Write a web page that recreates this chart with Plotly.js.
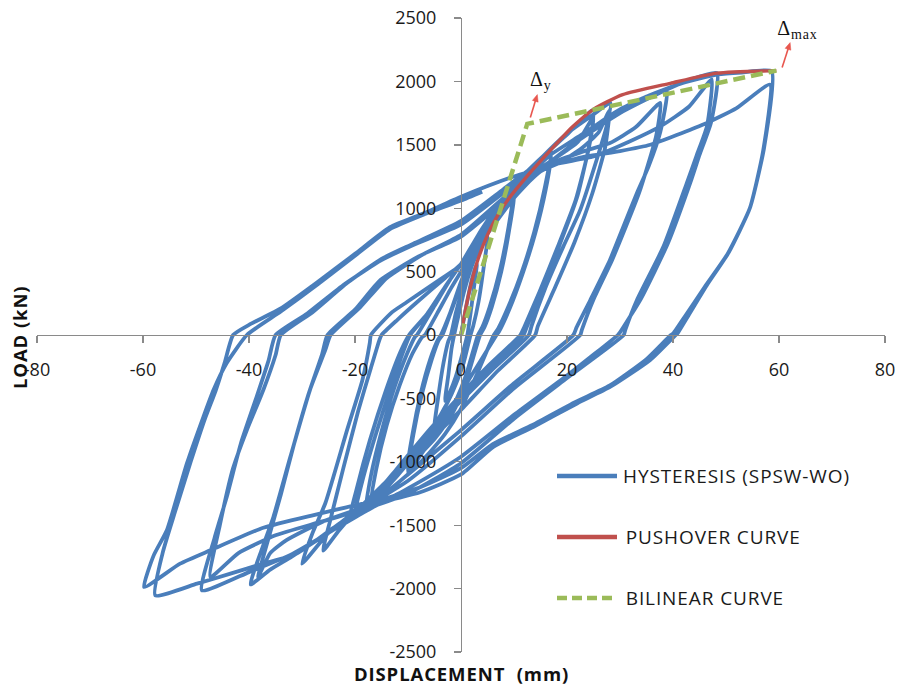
<!DOCTYPE html>
<html>
<head>
<meta charset="utf-8">
<script src="https://cdn.plot.ly/plotly-3.0.1.min.js"></script>
<style>
html,body{margin:0;padding:0;background:#fff;}
#chart{width:898px;height:686px;}
#chart .annotation-text{letter-spacing:0.9px;}
</style>
</head>
<body>
<div id="chart"></div>
<script>
// ---- tick labels ----
const xTickVals = [-80, -60, -40, -20, 0, 20, 40, 60, 80];
const xTickText = ["-80", "-60", "-40", "-20", "0", "20", "40", "60", "80"];
const yTickVals = [-2500, -2000, -1500, -1000, -500, 0, 500, 1000, 1500, 2000, 2500];
const yTickText = ["-2500", "-2000", "-1500", "-1000", "-500", "0", "500", "1000", "1500", "2000", "2500"];

// ---- series names ----
const seriesNames = ["HYSTERESIS (SPSW-WO)", "PUSHOVER CURVE", "BILINEAR CURVE"];

// ---- hysteresis cycles (displacement mm / load kN) ----
const loop1X = [0, 1, 2, 3, 2.4, 1.7, 1.2, 0, -1, -2, -3, -2.4, -1.8, -1.3];
const loop1Y = [0, 230, 430, 560, 360, 140, 0, -190, -330, -440, -520, -320, -110, 0];
const loop2X = [-0.5, 0.5, 2, 3.5, 5, 4.3, 3.3, 2.3, 1.8, 0.5, -1, -2.5, -4, -5, -4.3, -3.3, -2.4, -1.9];
const loop2Y = [150, 330, 540, 680, 780, 540, 260, 70, 0, -220, -390, -530, -640, -720, -490, -220, -50, 0];
const loop3X = [-1, 0, 2, 4, 6, 8, 10, 9, 7.4, 5.4, 4, 3.2, 1, -1, -3, -5, -7, -10, -9, -7.4, -5.5, -4.2, -3.5];
const loop3Y = [170, 320, 560, 760, 910, 1040, 1160, 860, 520, 220, 60, 0, -310, -520, -680, -800, -910, -1080, -790, -470, -190, -40, 0];
const loop4X = [-2, 0, 2, 4, 6, 8, 10, 9.1, 7.6, 5.8, 4.4, 3.6, 1, -1, -3, -5, -7, -10, -9.1, -7.6, -5.8, -4.4, -3.8];
const loop4Y = [170, 400, 600, 770, 900, 1010, 1110, 830, 500, 220, 60, 0, -360, -570, -710, -820, -910, -1040, -770, -460, -190, -40, 0];
const loop5X = [-2, 0, 3, 6, 9, 12, 15, 17, 15.8, 13.8, 11.5, 9, 7, 6.2, 3, 0, -3, -6, -9, -12, -15, -17, -16, -14, -11.6, -9.2, -7.4, -6.8];
const loop5Y = [180, 420, 720, 950, 1110, 1250, 1380, 1460, 1160, 810, 500, 230, 50, 0, -310, -580, -780, -930, -1060, -1170, -1270, -1340, -1060, -710, -400, -150, -20, 0];
const loop6X = [-4.5, -2, 0, 4, 8, 12, 15, 17, 16, 14, 11.6, 9.2, 7.2, 6.7, 3, 0, -4, -8, -12, -15, -18, -17, -15, -12.6, -10.2, -8.6, -8.3];
const loop6Y = [170, 360, 500, 800, 1040, 1230, 1350, 1420, 1150, 800, 480, 210, 30, 0, -250, -450, -700, -910, -1110, -1250, -1390, -1110, -760, -420, -150, -10, 0];
const loop7X = [-5, -2, 0, 4, 8, 12, 16, 20, 25, 24.2, 22, 18.5, 15, 12.3, 11.8, 6, 0, -6, -12, -17, -21, -19.6, -17.2, -14.2, -11.4, -9.8];
const loop7Y = [230, 440, 560, 840, 1080, 1270, 1430, 1580, 1777, 1500, 1100, 700, 340, 50, 0, -250, -490, -770, -1080, -1320, -1460, -1200, -830, -440, -130, 0];
const loop8X = [-6.5, -3, 0, 3, 6, 10, 14, 18, 22, 25, 24, 21.6, 18.2, 14.8, 11.8, 11.2, 5, 0, -6, -12, -16, -20, -18.6, -16.2, -13.3, -10.8, -9.6];
const loop8Y = [160, 380, 560, 760, 920, 1120, 1290, 1400, 1520, 1720, 1450, 1060, 690, 340, 50, 0, -250, -470, -750, -1050, -1250, -1420, -1150, -800, -420, -120, 0];
const loop9X = [-6, -3, 0, 5, 10, 15, 20, 25, 28.2, 27.5, 25.6, 22.5, 19.3, 16, 13.3, 12.8, 6, 0, -8, -14, -20, -23, -26, -24.6, -22.2, -19.4, -17, -15.4, -15];
const loop9Y = [180, 380, 560, 880, 1160, 1390, 1590, 1740, 1830, 1650, 1382, 987, 697, 380, 70, 0, -270, -520, -870, -1150, -1400, -1540, -1700, -1450, -1050, -600, -260, -40, 0];
const loop10X = [-12, -8, -3, 0, 5, 10, 15, 18.7, 23, 26, 28, 27.2, 24.8, 21.4, 17.8, 14.5, 14, 7, 0, -8, -15, -20, -25, -30, -28, -25.6, -21.5, -18.6, -17.2, -17];
const loop10Y = [120, 270, 450, 560, 830, 1090, 1290, 1360, 1480, 1600, 1770, 1480, 1120, 730, 380, 70, 0, -280, -590, -920, -1210, -1390, -1560, -1803, -1560, -1327, -750, -355, -60, 0];
const loop11X = [-13, -10.2, -3.9, 0, 5, 10, 15, 20, 25, 30, 35, 38.8, 37.6, 35.4, 33.2, 30.5, 28.1, 24.4, 21.8, 21.2, 10, 0, -10, -18, -25, -32, -36, -39.7, -37.5, -35.4, -32.2, -28.5, -25.6, -24.6];
const loop11Y = [180, 260, 440, 550, 800, 1080, 1300, 1470, 1640, 1780, 1880, 1935, 1600, 1330, 1120, 840, 592, 276, 60, 0, -380, -750, -1100, -1370, -1560, -1750, -1850, -1967, -1680, -1435, -961, -434, -118, 0];
const loop12X = [-19, -14, -7, 0, 8, 14, 18.7, 24, 28.1, 33, 37.6, 36.8, 33.6, 28.6, 25, 22.8, 22.5, 10, 0, -10, -18, -26, -33, -36, -38.3, -36.3, -34, -31.5, -28.8, -26.2, -25.2];
const loop12Y = [220, 450, 640, 790, 1080, 1280, 1382, 1460, 1514, 1640, 1830, 1566, 1120, 600, 280, 40, 0, -420, -800, -1150, -1350, -1470, -1620, -1720, -1909, -1600, -1260, -860, -470, -150, 0];
const loop13X = [-20, -15.2, -8, 0, 8, 15, 22, 30, 38, 43, 48.3, 47.2, 45, 43.5, 39, 34, 30, 29.6, 20, 10, 0, -10, -18, -25, -32, -40, -48.9, -46.5, -44.2, -41.5, -38.5, -36.3, -35];
const loop13Y = [200, 434, 620, 776, 1050, 1300, 1530, 1750, 1920, 2010, 2067, 1680, 1420, 1230, 720, 290, 20, 0, -320, -630, -960, -1210, -1390, -1560, -1730, -1870, -2014, -1600, -1277, -850, -480, -200, 0];
const loop14X = [-29, -22, -15, -9, 0, 8, 15, 25, 32, 37.6, 43, 47.3, 46.4, 44.5, 42.6, 38.2, 33.2, 31, 30.7, 20, 10, 0, -10, -18, -27, -35, -42, -47.3, -45.5, -43, -40.4, -37.3, -35, -34];
const loop14Y = [170, 400, 590, 710, 870, 1120, 1320, 1408, 1530, 1645, 1800, 2014, 1645, 1420, 1198, 697, 276, 40, 0, -340, -660, -1011, -1250, -1370, -1480, -1580, -1720, -1909, -1500, -1050, -750, -434, -160, 0];
const loop15X = [-28, -21.5, -15, -9, 0, 8, 15, 22, 28, 35, 42, 48.5, 53, 58.6, 57.2, 54.5, 50.3, 46, 42.3, 40, 39.6, 35, 28, 21.5, 13.5, 6, 0, -7.7, -15, -18.4, -24.7, -31, -37.3, -43.5, -49.8, -57.7, -56.3, -54, -51, -48.3, -46.3, -44.6, -43];
const loop15Y = [180, 410, 600, 720, 900, 1150, 1370, 1560, 1720, 1880, 1990, 2055, 2070, 2080, 1480, 1000, 640, 380, 150, 10, 0, -190, -400, -530, -710, -860, -1050, -1200, -1300, -1356, -1540, -1724, -1803, -1882, -1961, -2054, -1720, -1400, -1000, -660, -440, -220, 0];
const loop16X = [-40, -34, -27, -20, -13.4, -7, 0, 10, 22.5, 30, 35.7, 45.7, 52, 58.3, 57, 54.5, 50.5, 46.5, 43, 40.8, 40.5, 35.7, 28.2, 21.9, 13.7, 6.1, 0, -7.7, -15.2, -18.4, -27.8, -37.3, -47.3, -53, -59.8, -58, -55.5, -51.7, -48.6, -46.7, -44.2, -40.4];
const loop16Y = [80, 210, 420, 640, 850, 960, 1090, 1250, 1400, 1450, 1500, 1660, 1790, 1975, 1450, 1000, 650, 400, 160, 10, 0, -197, -408, -540, -724, -882, -1100, -1240, -1316, -1330, -1420, -1520, -1698, -1803, -1988, -1740, -1540, -1011, -645, -434, -221, 0];
const tailX = [-34, -27, -20, -13.4, -7, 0, 4];
const tailY = [185, 400, 625, 835, 950, 1060, 1130];

// ---- pushover curve ----
const pushX = [0, 0.5, 1.5, 3, 5, 7, 9, 12, 16.5, 21, 25, 30.5, 39.5, 48.3, 59.5];
const pushY = [0, 120, 330, 570, 790, 950, 1075, 1230, 1440, 1640, 1780, 1895, 1985, 2065, 2085];

// ---- bilinear curve ----
const biX = [0, 12.5, 59.5];
const biY = [0, 1665, 2085];

// ---- marker labels (yield / max displacement) ----
const markLabels = ["\u0394<sub>y</sub>", "\u0394<sub>max</sub>"];
const markTextX = [12.8, 59.6];
const markTextY = [2010, 2410];
const markArrowX = [14.4, 62.1];
const markArrowY = [1896, 2306];

const loopsX = [loop1X, loop2X, loop3X, loop4X, loop5X, loop6X, loop7X, loop8X, loop9X, loop10X, loop11X, loop12X, loop13X, loop14X, loop15X, loop16X, tailX];
const loopsY = [loop1Y, loop2Y, loop3Y, loop4Y, loop5Y, loop6Y, loop7Y, loop8Y, loop9Y, loop10Y, loop11Y, loop12Y, loop13Y, loop14Y, loop15Y, loop16Y, tailY];
const hystX = [].concat(...loopsX);
const hystY = [].concat(...loopsY);

const BLUE = '#4A7EBB', RED = '#C0504D', GREEN = '#9BBB59', ARROW = '#E8574F';
const FONT = 'Open Sans, Lato, sans-serif';

const traces = [
  {x: hystX, y: hystY, type: 'scatter', mode: 'lines', name: seriesNames[0],
   line: {color: BLUE, width: 3.8, shape: 'spline', smoothing: 0.5}, hoverinfo: 'skip'},
  {x: pushX, y: pushY, type: 'scatter', mode: 'lines', name: seriesNames[1],
   line: {color: RED, width: 3.4, shape: 'spline', smoothing: 0.6}, hoverinfo: 'skip'},
  {x: biX, y: biY, type: 'scatter', mode: 'lines', name: seriesNames[2],
   line: {color: GREEN, width: 4.5, dash: '12px,6px'}, hoverinfo: 'skip'}
];

// plot area geometry (px) for the manual legend
const L = 37, R = 13, T = 18, B = 34, W = 898, H = 686;
const pw = W - L - R, ph = H - T - B;
const px2paperX = p => (p - L) / pw;
const px2paperY = p => (H - B - p) / ph;

const legendColors = [BLUE, RED, GREEN];
const legendDash = ['solid', 'solid', '10px,5px'];
const legendRows = [476, 537, 598];
const shapes = [];
const annotations = [];
legendRows.forEach((py, i) => {
  shapes.push({type: 'line', xref: 'paper', yref: 'paper',
    x0: px2paperX(557), x1: px2paperX(617), y0: px2paperY(py), y1: px2paperY(py),
    line: {color: legendColors[i], width: 4.5, dash: legendDash[i]}});
  annotations.push({xref: 'paper', yref: 'paper', x: px2paperX(630), y: px2paperY(py),
    xanchor: 'left', yanchor: 'middle', showarrow: false, text: seriesNames[i],
    font: {family: FONT, size: 19, color: '#1a1a1a'}});
});

// axis titles
annotations.push({xref: 'paper', yref: 'paper', x: px2paperX(462), y: px2paperY(673),
  xanchor: 'center', yanchor: 'middle', showarrow: false,
  text: '<b>DISPLACEMENT\u00a0 (mm)</b>', font: {family: FONT, size: 18.5, color: '#111'}});
annotations.push({xref: 'paper', yref: 'paper', x: px2paperX(19), y: px2paperY(337),
  xanchor: 'center', yanchor: 'middle', showarrow: false, textangle: -90,
  text: '<b>LOAD (kN)</b>', font: {family: FONT, size: 18.5, color: '#111'}});

// delta labels
markLabels.forEach((t, i) => {
  annotations.push({x: markTextX[i], y: markTextY[i], xref: 'x', yref: 'y', xanchor: 'left', yanchor: 'middle',
    showarrow: false, text: t, font: {family: 'Liberation Serif, serif', size: 20, color: '#111'}});
});

// small red arrows drawn as shapes anchored at the arrow heads (pixel-sized)
const arrowTails = [[-7, -23], [-8, -25]];
markArrowX.forEach((hx, i) => {
  const [tx, ty] = arrowTails[i];
  const len = Math.hypot(tx, ty), ux = -tx / len, uy = -ty / len;
  const bx = -ux * 7, by = -uy * 7, qx = uy * 3, qy = -ux * 3;
  shapes.push({type: 'path', xref: 'x', yref: 'y', xsizemode: 'pixel', ysizemode: 'pixel',
    xanchor: hx, yanchor: markArrowY[i],
    path: `M${tx},${ty} L${(bx * 0.7).toFixed(2)},${(by * 0.7).toFixed(2)}`,
    line: {color: ARROW, width: 1.6}});
  shapes.push({type: 'path', xref: 'x', yref: 'y', xsizemode: 'pixel', ysizemode: 'pixel',
    xanchor: hx, yanchor: markArrowY[i],
    path: `M0,0 L${(bx + qx).toFixed(2)},${(by + qy).toFixed(2)} L${(bx - qx).toFixed(2)},${(by - qy).toFixed(2)} Z`,
    fillcolor: ARROW, line: {color: ARROW, width: 0.5}});
});

const axisCommon = {
  anchor: 'free', position: 0.5, showline: true, linecolor: '#8a8a8a', linewidth: 1.4,
  ticks: 'outside', ticklen: 7, tickwidth: 1.4, tickcolor: '#8a8a8a',
  showgrid: false, zeroline: false, tickmode: 'array',
  tickfont: {family: FONT, size: 18, color: '#1a1a1a'}, fixedrange: true
};

const layout = {
  width: W, height: H,
  margin: {l: L, r: R, t: T, b: B, pad: 0},
  paper_bgcolor: '#fff', plot_bgcolor: '#fff',
  showlegend: false,
  xaxis: Object.assign({}, axisCommon, {range: [-80, 80], tickvals: xTickVals, ticktext: xTickText, ticklabelstandoff: 11}),
  yaxis: Object.assign({}, axisCommon, {range: [-2500, 2500], tickvals: yTickVals, ticktext: yTickText, ticklabelstandoff: 14}),
  shapes: shapes,
  annotations: annotations
};

Plotly.newPlot('chart', traces, layout, {displayModeBar: false, staticPlot: true});
</script>
</body>
</html>
